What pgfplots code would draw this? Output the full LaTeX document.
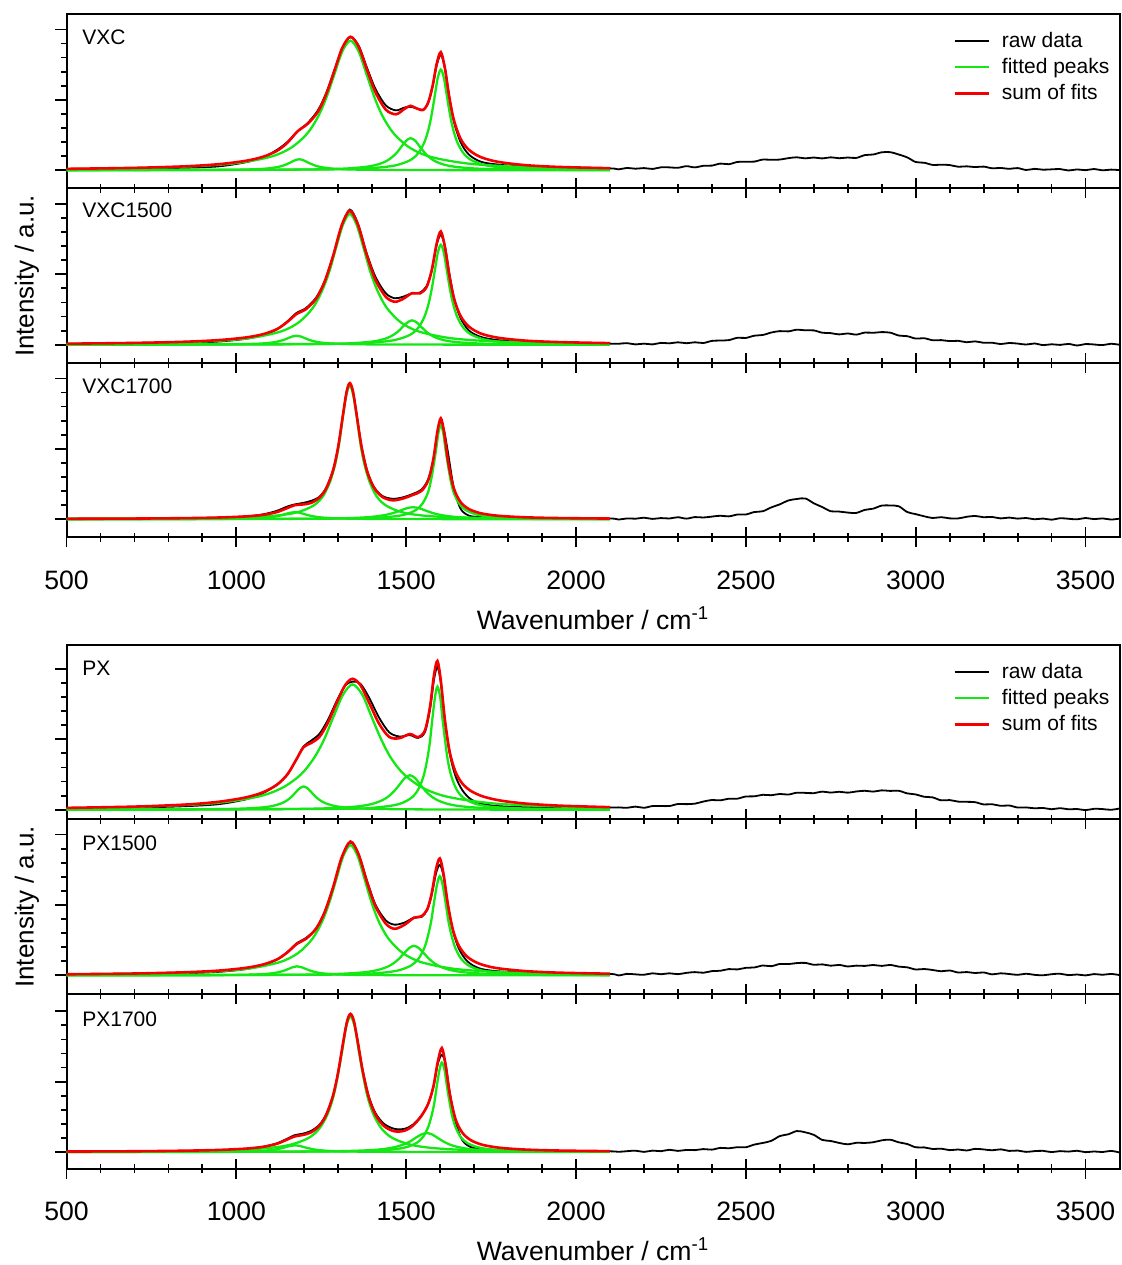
\documentclass[border=0pt]{standalone}
\usepackage{fontspec}
\setmainfont{Liberation Sans}
\usepackage{pgfplots}
\pgfplotsset{compat=1.18}
\definecolor{fitgreen}{RGB}{20,232,20}
\definecolor{fitred}{RGB}{245,0,0}
\pgfplotsset{
  panel/.style={
    scale only axis, width=526.5pt, height=87.25pt, anchor=south west,
    xmin=500, xmax=3600,
    xtick={500,1000,...,3500}, minor x tick num=4,
    ytick={0,1,2}, minor y tick num=4, yticklabels={},
    xtick pos=left, ytick pos=left,
    tick align=center, major tick length=10pt, minor tick length=4.6pt,
    every y tick/.append style={/pgfplots/tick align=outside,/pgfplots/major tick length=5.8pt,/pgfplots/minor tick length=2.5pt},
    tick style={black, line width=0.9pt},
    axis line style={line width=1pt},
    /pgf/number format/assume math mode=true,
    /pgf/number format/1000 sep={},
    ticklabel style={font=\fontsize{13.3}{15}\selectfont},
    xticklabel style={yshift=-8pt},
    xlabel style={font=\fontsize{13.3}{15}\selectfont, at={(axis description cs:0.5,0)}, anchor=center, yshift=-40.3pt},
    clip=true,
  },
  raw/.style={black, line width=0.9pt, smooth},
  peak/.style={fitgreen, line width=1.15pt, smooth},
  fit/.style={fitred, line width=1.3pt, smooth},
  keybox/.style={legend style={draw=none, fill=none, at={(axis description cs:0.836,0.945)}, anchor=north west,
    font=\fontsize{10.5}{12}\selectfont, row sep=0pt,
    /tikz/every odd column/.append style={column sep=4pt}}, legend cell align=left},
}
\newcommand{\plabel}[2]{\node[anchor=west, inner sep=0pt, font=\fontsize{10.5}{12}\selectfont] at (axis description cs:0.0147,#1) {#2};}
\begin{document}
\begin{tikzpicture}
\useasboundingbox (0,0) rectangle (560.5pt,632.5pt);

% ---------------- VXC ----------------
\begin{axis}[panel, keybox, at={(33.25pt,538.25pt)}, ymin=-0.26, ymax=2.219, xticklabels={}]
\addplot[raw] coordinates {(500,0.015)(700,0.025)(850,0.035)(950,0.055)(1030,0.115)(1080,0.185)(1120,0.29)(1150,0.40)(1180,0.55)(1210,0.67)(1240,0.85)(1265,1.10)(1290,1.44)(1312,1.74)(1336,1.89)(1360,1.77)(1385,1.45)(1410,1.15)(1440,0.92)(1470,0.85)(1495,0.89)(1513,0.90)(1530,0.88)(1550,0.86)(1565,0.96)(1578,1.19)(1590,1.49)(1602,1.64)(1614,1.45)(1626,1.07)(1640,0.70)(1660,0.40)(1685,0.22)(1720,0.12)(1770,0.08)(1850,0.05)(1950,0.04)(2100,0.026)
(2125,0.012)(2150,0.032)(2175,0.021)(2200,0.030)(2225,0.018)(2250,0.041)(2275,0.040)(2300,0.034)(2325,0.057)(2350,0.040)(2375,0.063)(2400,0.065)(2425,0.094)(2450,0.085)(2475,0.117)(2500,0.121)(2525,0.122)(2550,0.151)(2575,0.147)(2600,0.151)(2625,0.171)(2650,0.183)(2675,0.168)(2700,0.180)(2725,0.167)(2750,0.183)(2775,0.170)(2800,0.180)(2825,0.174)(2850,0.214)(2875,0.223)(2900,0.254)(2925,0.256)(2950,0.223)(2975,0.182)(3000,0.116)(3025,0.106)(3050,0.075)(3075,0.078)(3100,0.073)(3125,0.049)(3150,0.055)(3175,0.044)(3200,0.051)(3225,0.027)(3250,0.032)(3275,0.019)(3300,0.030)(3325,0.003)(3350,0.019)(3375,0.007)(3400,0.012)(3425,0.016)(3450,-0.004)(3475,0.011)(3500,0.000)(3525,0.017)(3550,-0.002)(3575,0.008)(3600,0.001)};
\addlegendentry{raw data}
\addplot[peak] coordinates {(500,0.017)(776,0.037)(976,0.087)(1096,0.184)(1160,0.315)(1208,0.517)(1240,0.754)(1264,1.017)(1288,1.353)(1312,1.688)(1336,1.84)(1360,1.688)(1384,1.353)(1408,1.017)(1432,0.754)(1464,0.517)(1512,0.315)(1576,0.184)(1696,0.087)(1896,0.037)(2100,0.020)};
\addlegendentry{fitted peaks}
\addplot[peak, forget plot] coordinates {(500,0.001)(1242,0.010)(1392,0.029)(1467,0.067)(1512,0.143)(1536,0.245)(1554,0.402)(1566,0.586)(1575,0.790)(1584,1.051)(1593,1.312)(1602,1.43)(1611,1.312)(1620,1.051)(1629,0.790)(1638,0.586)(1650,0.402)(1668,0.245)(1692,0.143)(1737,0.067)(1812,0.029)(1962,0.010)(2100,0.005)};
\addplot[peak, forget plot] coordinates {(500,0.001)(973,0.003)(1198,0.009)(1311,0.021)(1378,0.046)(1414,0.078)(1441,0.128)(1459,0.187)(1473,0.251)(1486,0.335)(1500,0.417)(1513,0.455)(1527,0.417)(1540,0.335)(1554,0.251)(1567,0.187)(1585,0.128)(1612,0.078)(1648,0.046)(1716,0.021)(1828,0.009)(2053,0.003)(2100,0.003)};
\addplot[peak, forget plot] coordinates {(500,0.001)(705,0.001)(905,0.003)(1005,0.007)(1065,0.016)(1097,0.027)(1121,0.044)(1137,0.064)(1149,0.086)(1161,0.114)(1173,0.142)(1185,0.155)(1197,0.142)(1209,0.114)(1221,0.086)(1233,0.064)(1249,0.044)(1273,0.027)(1305,0.016)(1365,0.007)(1465,0.003)(1665,0.001)(2100,0.000)};
\addplot[fit] coordinates {(500,0.019)(700,0.033)(850,0.055)(950,0.086)(1030,0.135)(1080,0.193)(1120,0.276)(1150,0.388)(1180,0.551)(1210,0.659)(1240,0.829)(1265,1.086)(1290,1.433)(1312,1.739)(1336,1.896)(1360,1.754)(1385,1.421)(1410,1.103)(1440,0.860)(1470,0.794)(1495,0.871)(1513,0.915)(1530,0.879)(1550,0.856)(1565,0.964)(1578,1.203)(1590,1.516)(1602,1.677)(1614,1.450)(1626,1.066)(1640,0.721)(1660,0.448)(1685,0.288)(1720,0.185)(1770,0.119)(1850,0.072)(1950,0.046)(2100,0.028)};
\addlegendentry{sum of fits}
\plabel{0.868}{VXC}
\end{axis}

% ---------------- VXC1500 ----------------
\begin{axis}[panel, at={(33.25pt,451pt)}, ymin=-0.26, ymax=2.219, xticklabels={}]
\addplot[raw] coordinates {(500,0.010)(700,0.018)(850,0.028)(950,0.045)(1030,0.085)(1080,0.14)(1120,0.22)(1150,0.33)(1177,0.45)(1205,0.52)(1235,0.67)(1260,0.90)(1285,1.26)(1310,1.68)(1334,1.92)(1358,1.72)(1383,1.31)(1410,0.96)(1440,0.73)(1466,0.66)(1490,0.68)(1517,0.73)(1540,0.74)(1560,0.83)(1575,1.05)(1590,1.42)(1602,1.56)(1614,1.40)(1628,0.99)(1642,0.64)(1660,0.38)(1685,0.20)(1720,0.11)(1770,0.065)(1850,0.035)(1950,0.025)(2100,0.015)
(2125,0.013)(2150,0.022)(2175,0.004)(2200,0.015)(2225,0.004)(2250,0.026)(2275,0.019)(2300,0.034)(2325,0.021)(2350,0.034)(2375,0.024)(2400,0.054)(2425,0.059)(2450,0.065)(2475,0.098)(2500,0.096)(2525,0.128)(2550,0.138)(2575,0.173)(2600,0.193)(2625,0.189)(2650,0.213)(2675,0.204)(2700,0.203)(2725,0.170)(2750,0.164)(2775,0.146)(2800,0.160)(2825,0.143)(2850,0.172)(2875,0.169)(2900,0.179)(2925,0.171)(2950,0.130)(2975,0.121)(3000,0.087)(3025,0.092)(3050,0.063)(3075,0.065)(3100,0.051)(3125,0.055)(3150,0.035)(3175,0.047)(3200,0.027)(3225,0.028)(3250,0.009)(3275,0.024)(3300,0.016)(3325,0.002)(3350,0.017)(3375,-0.006)(3400,0.006)(3425,-0.003)(3450,0.011)(3475,-0.011)(3500,0.009)(3525,0.003)(3550,-0.006)(3575,0.013)(3600,-0.001)};
\addplot[peak] coordinates {(500,0.012)(858,0.037)(1028,0.087)(1130,0.186)(1184,0.318)(1225,0.522)(1252,0.761)(1273,1.027)(1293,1.366)(1314,1.705)(1334,1.858)(1354,1.705)(1375,1.366)(1395,1.027)(1416,0.761)(1443,0.522)(1484,0.318)(1538,0.186)(1640,0.087)(1810,0.037)(2100,0.015)};
\addplot[peak] coordinates {(500,0.001)(1242,0.010)(1392,0.028)(1467,0.067)(1512,0.142)(1536,0.243)(1554,0.399)(1566,0.582)(1575,0.785)(1584,1.044)(1593,1.303)(1602,1.42)(1611,1.303)(1620,1.044)(1629,0.785)(1638,0.582)(1650,0.399)(1668,0.243)(1692,0.142)(1737,0.067)(1812,0.028)(1962,0.010)(2100,0.005)};
\addplot[peak] coordinates {(500,0.001)(977,0.002)(1202,0.007)(1315,0.016)(1382,0.035)(1418,0.059)(1445,0.097)(1463,0.142)(1477,0.191)(1490,0.254)(1504,0.317)(1517,0.346)(1531,0.317)(1544,0.254)(1558,0.191)(1571,0.142)(1589,0.097)(1616,0.059)(1652,0.035)(1720,0.016)(1832,0.007)(2057,0.002)(2100,0.002)};
\addplot[peak] coordinates {(500,0.000)(697,0.001)(897,0.003)(997,0.006)(1057,0.013)(1089,0.022)(1113,0.036)(1129,0.053)(1141,0.071)(1153,0.094)(1165,0.117)(1177,0.128)(1189,0.117)(1201,0.094)(1213,0.071)(1225,0.053)(1241,0.036)(1265,0.022)(1297,0.013)(1357,0.006)(1457,0.003)(1657,0.001)(2100,0.000)};
\addplot[fit] coordinates {(500,0.014)(700,0.025)(850,0.042)(950,0.066)(1030,0.104)(1080,0.151)(1120,0.222)(1150,0.323)(1177,0.435)(1205,0.505)(1235,0.655)(1260,0.896)(1285,1.264)(1310,1.693)(1334,1.903)(1358,1.705)(1383,1.289)(1410,0.916)(1440,0.680)(1466,0.610)(1490,0.648)(1517,0.731)(1540,0.728)(1560,0.817)(1575,1.053)(1590,1.443)(1602,1.609)(1614,1.389)(1628,0.955)(1642,0.638)(1660,0.409)(1685,0.255)(1720,0.158)(1770,0.099)(1850,0.058)(1950,0.037)(2100,0.022)};
\plabel{0.877}{VXC1500}
\end{axis}

% ---------------- VXC1700 ----------------
\begin{axis}[panel, at={(33.25pt,363.75pt)}, ymin=-0.26, ymax=2.219,
  xlabel={Wavenumber / cm\textsuperscript{-1}}]
\addplot[raw] coordinates {(500,0.01)(700,0.01)(850,0.015)(950,0.02)(1030,0.04)(1080,0.07)(1120,0.12)(1150,0.18)(1172,0.21)(1195,0.23)(1220,0.26)(1245,0.32)(1265,0.45)(1285,0.70)(1300,1.03)(1315,1.51)(1325,1.81)(1334,1.92)(1343,1.82)(1353,1.52)(1368,1.05)(1385,0.69)(1405,0.46)(1430,0.33)(1460,0.29)(1490,0.31)(1520,0.36)(1545,0.42)(1565,0.57)(1580,0.85)(1592,1.22)(1602,1.38)(1612,1.25)(1624,0.92)(1640,0.45)(1660,0.15)(1685,0.05)(1720,0.03)(1770,0.02)(1850,0.015)(1950,0.01)(2100,0.01)
(2125,-0.005)(2150,0.011)(2175,0.007)(2200,0.021)(2225,0.004)(2250,0.016)(2275,0.010)(2300,0.028)(2325,0.008)(2350,0.030)(2375,0.024)(2400,0.037)(2425,0.049)(2450,0.040)(2475,0.066)(2500,0.067)(2525,0.102)(2550,0.113)(2575,0.168)(2600,0.211)(2625,0.266)(2650,0.287)(2675,0.295)(2700,0.226)(2725,0.172)(2750,0.113)(2775,0.108)(2800,0.094)(2825,0.089)(2850,0.132)(2875,0.150)(2900,0.193)(2925,0.195)(2950,0.184)(2975,0.102)(3000,0.072)(3025,0.041)(3050,0.017)(3075,0.029)(3100,0.012)(3125,0.011)(3150,0.034)(3175,0.046)(3200,0.028)(3225,0.032)(3250,0.011)(3275,0.023)(3300,0.008)(3325,0.017)(3350,-0.001)(3375,0.009)(3400,-0.007)(3425,0.014)(3450,0.006)(3475,-0.002)(3500,0.017)(3525,0.001)(3550,0.011)(3575,-0.005)(3600,0.008)};
\addplot[peak] coordinates {(500,0.004)(902,0.013)(1082,0.038)(1172,0.089)(1226,0.19)(1255,0.325)(1276,0.534)(1291,0.779)(1302,1.050)(1312,1.397)(1323,1.743)(1334,1.90)(1345,1.743)(1356,1.397)(1366,1.050)(1377,0.779)(1392,0.534)(1413,0.325)(1442,0.19)(1496,0.089)(1586,0.038)(1766,0.013)(2100,0.004)};
\addplot[peak] coordinates {(500,0.001)(1314,0.009)(1434,0.027)(1494,0.063)(1530,0.134)(1549,0.229)(1564,0.376)(1573,0.549)(1580,0.740)(1588,0.985)(1595,1.229)(1602,1.34)(1609,1.229)(1616,0.985)(1624,0.740)(1631,0.549)(1640,0.376)(1655,0.229)(1674,0.134)(1710,0.063)(1770,0.027)(1890,0.009)(2100,0.003)};
\addplot[peak] coordinates {(500,0.001)(800,0.001)(1100,0.003)(1250,0.008)(1340,0.017)(1388,0.029)(1424,0.048)(1448,0.070)(1466,0.094)(1484,0.125)(1502,0.156)(1520,0.17)(1538,0.156)(1556,0.125)(1574,0.094)(1592,0.070)(1616,0.048)(1652,0.029)(1700,0.017)(1790,0.008)(1940,0.003)(2100,0.002)};
\addplot[peak] coordinates {(500,0.000)(632,0.001)(857,0.002)(970,0.005)(1037,0.010)(1073,0.017)(1100,0.028)(1118,0.041)(1132,0.055)(1145,0.074)(1159,0.092)(1172,0.10)(1186,0.092)(1199,0.074)(1213,0.055)(1226,0.041)(1244,0.028)(1271,0.017)(1307,0.010)(1375,0.005)(1487,0.002)(1712,0.001)(2100,0.000)};
\addplot[fit] coordinates {(500,0.005)(700,0.009)(850,0.015)(950,0.024)(1030,0.040)(1080,0.062)(1120,0.102)(1150,0.158)(1172,0.199)(1195,0.209)(1220,0.231)(1245,0.308)(1265,0.441)(1285,0.698)(1300,1.035)(1315,1.518)(1325,1.820)(1334,1.934)(1343,1.824)(1353,1.524)(1368,1.046)(1385,0.681)(1405,0.448)(1430,0.315)(1460,0.268)(1490,0.293)(1520,0.346)(1545,0.402)(1565,0.552)(1580,0.854)(1592,1.249)(1602,1.433)(1612,1.224)(1624,0.800)(1640,0.442)(1660,0.245)(1685,0.143)(1720,0.084)(1770,0.049)(1850,0.027)(1950,0.016)(2100,0.009)};
\plabel{0.868}{VXC1700}
\end{axis}

% ---------------- PX ----------------
\begin{axis}[panel, keybox, at={(33.25pt,222.75pt)}, ymin=-0.139, ymax=2.34, xticklabels={}]
\addplot[raw] coordinates {(500,0.02)(700,0.03)(850,0.05)(950,0.08)(1030,0.15)(1080,0.24)(1120,0.36)(1150,0.50)(1175,0.70)(1198,0.90)(1220,0.98)(1245,1.08)(1270,1.28)(1295,1.54)(1320,1.76)(1342,1.82)(1365,1.79)(1390,1.60)(1420,1.31)(1450,1.10)(1480,1.04)(1511,1.06)(1535,1.02)(1555,1.10)(1570,1.42)(1582,1.85)(1592,2.03)(1602,1.80)(1614,1.27)(1628,0.80)(1645,0.48)(1665,0.28)(1690,0.15)(1725,0.08)(1775,0.05)(1850,0.035)(1950,0.03)(2100,0.03)
(2125,0.033)(2150,0.027)(2175,0.044)(2200,0.027)(2225,0.052)(2250,0.053)(2275,0.052)(2300,0.081)(2325,0.079)(2350,0.086)(2375,0.116)(2400,0.138)(2425,0.133)(2450,0.157)(2475,0.157)(2500,0.188)(2525,0.190)(2550,0.212)(2575,0.206)(2600,0.224)(2625,0.215)(2650,0.242)(2675,0.239)(2700,0.235)(2725,0.257)(2750,0.243)(2775,0.255)(2800,0.242)(2825,0.259)(2850,0.269)(2875,0.257)(2900,0.275)(2925,0.267)(2950,0.269)(2975,0.232)(3000,0.217)(3025,0.184)(3050,0.175)(3075,0.133)(3100,0.137)(3125,0.115)(3150,0.112)(3175,0.107)(3200,0.075)(3225,0.078)(3250,0.055)(3275,0.060)(3300,0.031)(3325,0.033)(3350,0.020)(3375,0.025)(3400,0.007)(3425,0.022)(3450,0.006)(3475,0.010)(3500,-0.006)(3525,0.013)(3550,0.009)(3575,-0.001)(3600,0.017)};
\addlegendentry{raw data}
\addplot[peak] coordinates {(500,0.022)(677,0.036)(915,0.084)(1057,0.178)(1133,0.305)(1190,0.50)(1228,0.729)(1257,0.983)(1285,1.309)(1314,1.633)(1342,1.78)(1371,1.633)(1399,1.309)(1428,0.983)(1456,0.729)(1494,0.50)(1551,0.305)(1627,0.178)(1770,0.084)(2007,0.036)(2100,0.028)};
\addlegendentry{fitted peaks}
\addplot[peak, forget plot] coordinates {(500,0.001)(1292,0.012)(1417,0.035)(1480,0.082)(1517,0.175)(1537,0.300)(1552,0.492)(1562,0.717)(1570,0.967)(1577,1.287)(1585,1.605)(1592,1.75)(1600,1.605)(1607,1.287)(1615,0.967)(1622,0.717)(1632,0.492)(1647,0.300)(1667,0.175)(1705,0.082)(1767,0.035)(1892,0.012)(2100,0.004)};
\addplot[peak, forget plot] coordinates {(500,0.001)(911,0.003)(1161,0.010)(1286,0.023)(1361,0.049)(1401,0.084)(1431,0.138)(1451,0.201)(1466,0.271)(1481,0.360)(1496,0.450)(1511,0.49)(1526,0.450)(1541,0.360)(1556,0.271)(1571,0.201)(1591,0.138)(1621,0.084)(1661,0.049)(1736,0.023)(1861,0.010)(2100,0.004)};
\addplot[peak, forget plot] coordinates {(500,0.001)(718,0.002)(918,0.007)(1018,0.016)(1078,0.033)(1110,0.057)(1134,0.093)(1150,0.135)(1162,0.182)(1174,0.243)(1186,0.303)(1198,0.33)(1210,0.303)(1222,0.243)(1234,0.182)(1246,0.135)(1262,0.093)(1286,0.057)(1318,0.033)(1378,0.016)(1478,0.007)(1678,0.002)(2100,0.001)};
\addplot[fit] coordinates {(500,0.026)(700,0.044)(850,0.073)(950,0.114)(1030,0.177)(1080,0.251)(1120,0.356)(1150,0.499)(1175,0.699)(1198,0.889)(1220,0.947)(1245,1.036)(1270,1.239)(1295,1.515)(1320,1.767)(1342,1.860)(1365,1.772)(1390,1.530)(1420,1.224)(1450,1.034)(1480,1.016)(1511,1.075)(1535,1.032)(1555,1.124)(1570,1.458)(1582,1.916)(1592,2.113)(1602,1.835)(1614,1.276)(1628,0.825)(1645,0.540)(1665,0.374)(1690,0.268)(1725,0.190)(1775,0.132)(1850,0.088)(1950,0.058)(2100,0.036)};
\addlegendentry{sum of fits}
\plabel{0.868}{PX}
\end{axis}

% ---------------- PX1500 ----------------
\begin{axis}[panel, at={(33.25pt,135.5pt)}, ymin=-0.265, ymax=2.214, xticklabels={}]
\addplot[raw] coordinates {(500,0.01)(700,0.015)(850,0.03)(950,0.05)(1030,0.09)(1080,0.145)(1120,0.225)(1150,0.33)(1179,0.46)(1205,0.53)(1235,0.67)(1260,0.90)(1285,1.25)(1310,1.66)(1336,1.89)(1360,1.72)(1385,1.34)(1410,1.00)(1440,0.78)(1466,0.72)(1495,0.75)(1523,0.82)(1545,0.83)(1562,0.93)(1575,1.14)(1588,1.45)(1599,1.57)(1610,1.41)(1623,1.00)(1638,0.63)(1655,0.38)(1680,0.20)(1715,0.10)(1765,0.06)(1850,0.04)(1950,0.03)(2100,0.02)
(2125,-0.001)(2150,0.021)(2175,0.014)(2200,0.008)(2225,0.029)(2250,0.016)(2275,0.029)(2300,0.017)(2325,0.035)(2350,0.046)(2375,0.037)(2400,0.060)(2425,0.065)(2450,0.089)(2475,0.084)(2500,0.107)(2525,0.112)(2550,0.140)(2575,0.130)(2600,0.162)(2625,0.160)(2650,0.174)(2675,0.177)(2700,0.150)(2725,0.156)(2750,0.137)(2775,0.148)(2800,0.126)(2825,0.138)(2850,0.134)(2875,0.147)(2900,0.134)(2925,0.148)(2950,0.124)(2975,0.114)(3000,0.083)(3025,0.090)(3050,0.076)(3075,0.058)(3100,0.069)(3125,0.040)(3150,0.047)(3175,0.033)(3200,0.041)(3225,0.014)(3250,0.029)(3275,0.019)(3300,0.007)(3325,0.023)(3350,0.007)(3375,0.001)(3400,0.016)(3425,0.023)(3450,0.003)(3475,0.012)(3500,-0.001)(3525,0.018)(3550,0.008)(3575,0.020)(3600,0.004)};
\addplot[peak] coordinates {(500,0.013)(846,0.037)(1021,0.087)(1126,0.185)(1182,0.317)(1224,0.520)(1252,0.758)(1273,1.022)(1294,1.360)(1315,1.697)(1336,1.85)(1357,1.697)(1378,1.360)(1399,1.022)(1420,0.758)(1448,0.520)(1490,0.317)(1546,0.185)(1651,0.087)(1826,0.037)(2100,0.015)};
\addplot[peak] coordinates {(500,0.001)(1263,0.010)(1403,0.028)(1473,0.066)(1515,0.141)(1537,0.241)(1554,0.396)(1565,0.578)(1574,0.779)(1582,1.037)(1591,1.294)(1599,1.41)(1607,1.294)(1616,1.037)(1624,0.779)(1633,0.578)(1644,0.396)(1661,0.241)(1683,0.141)(1725,0.066)(1795,0.028)(1935,0.010)(2100,0.004)};
\addplot[peak] coordinates {(500,0.001)(923,0.003)(1173,0.008)(1298,0.020)(1373,0.042)(1413,0.072)(1443,0.118)(1463,0.172)(1478,0.232)(1493,0.309)(1508,0.385)(1523,0.42)(1538,0.385)(1553,0.309)(1568,0.232)(1583,0.172)(1603,0.118)(1633,0.072)(1673,0.042)(1748,0.020)(1873,0.008)(2100,0.003)};
\addplot[peak] coordinates {(500,0.000)(699,0.001)(899,0.003)(999,0.006)(1059,0.013)(1091,0.022)(1115,0.036)(1131,0.053)(1143,0.071)(1155,0.094)(1167,0.117)(1179,0.128)(1191,0.117)(1203,0.094)(1215,0.071)(1227,0.053)(1243,0.036)(1267,0.022)(1299,0.013)(1359,0.006)(1459,0.003)(1659,0.001)(2100,0.000)};
\addplot[fit] coordinates {(500,0.015)(700,0.026)(850,0.044)(950,0.068)(1030,0.108)(1080,0.156)(1120,0.227)(1150,0.325)(1179,0.450)(1205,0.518)(1235,0.664)(1260,0.898)(1285,1.253)(1310,1.672)(1336,1.901)(1360,1.717)(1385,1.319)(1410,0.977)(1440,0.734)(1466,0.661)(1495,0.718)(1523,0.818)(1545,0.839)(1562,0.938)(1575,1.162)(1588,1.512)(1599,1.661)(1610,1.440)(1623,1.001)(1638,0.641)(1655,0.420)(1680,0.263)(1715,0.166)(1765,0.104)(1850,0.061)(1950,0.038)(2100,0.023)};
\plabel{0.865}{PX1500}
\end{axis}

% ---------------- PX1700 ----------------
\begin{axis}[panel, at={(33.25pt,48.25pt)}, ymin=-0.234, ymax=2.245,
  xlabel={Wavenumber / cm\textsuperscript{-1}}]
\addplot[raw] coordinates {(500,0.005)(700,0.008)(850,0.015)(950,0.025)(1030,0.045)(1080,0.075)(1120,0.125)(1150,0.19)(1172,0.24)(1195,0.26)(1220,0.30)(1245,0.39)(1265,0.54)(1285,0.81)(1300,1.14)(1315,1.57)(1326,1.86)(1336,1.96)(1346,1.86)(1358,1.55)(1372,1.16)(1390,0.79)(1410,0.55)(1435,0.40)(1465,0.33)(1495,0.33)(1520,0.39)(1545,0.52)(1565,0.69)(1580,0.92)(1593,1.25)(1605,1.38)(1616,1.25)(1628,0.86)(1645,0.43)(1665,0.17)(1690,0.07)(1725,0.04)(1775,0.03)(1850,0.02)(1950,0.015)(2100,0.01)
(2125,0.003)(2150,0.012)(2175,0.019)(2200,0.002)(2225,0.020)(2250,0.012)(2275,0.032)(2300,0.016)(2325,0.030)(2350,0.027)(2375,0.042)(2400,0.034)(2425,0.059)(2450,0.053)(2475,0.069)(2500,0.068)(2525,0.106)(2550,0.129)(2575,0.159)(2600,0.227)(2625,0.252)(2650,0.298)(2675,0.280)(2700,0.244)(2725,0.172)(2750,0.157)(2775,0.129)(2800,0.110)(2825,0.131)(2850,0.129)(2875,0.139)(2900,0.166)(2925,0.175)(2950,0.138)(2975,0.114)(3000,0.067)(3025,0.066)(3050,0.043)(3075,0.048)(3100,0.027)(3125,0.036)(3150,0.022)(3175,0.045)(3200,0.037)(3225,0.025)(3250,0.038)(3275,0.016)(3300,0.021)(3325,0.002)(3350,0.013)(3375,0.017)(3400,-0.001)(3425,0.013)(3450,0.006)(3475,0.018)(3500,-0.002)(3525,0.008)(3550,0.000)(3575,0.016)(3600,-0.006)};
\addplot[peak] coordinates {(500,0.005)(832,0.013)(1042,0.039)(1147,0.091)(1210,0.193)(1244,0.330)(1269,0.542)(1286,0.791)(1298,1.066)(1311,1.419)(1323,1.771)(1336,1.93)(1349,1.771)(1361,1.419)(1374,1.066)(1386,0.791)(1403,0.542)(1428,0.330)(1462,0.193)(1525,0.091)(1630,0.039)(1840,0.013)(2100,0.006)};
\addplot[peak] coordinates {(500,0.001)(1305,0.009)(1430,0.025)(1493,0.060)(1530,0.127)(1550,0.217)(1565,0.357)(1575,0.520)(1583,0.702)(1590,0.934)(1598,1.165)(1605,1.27)(1613,1.165)(1620,0.934)(1628,0.702)(1635,0.520)(1645,0.357)(1660,0.217)(1680,0.127)(1718,0.060)(1780,0.025)(1905,0.009)(2100,0.003)};
\addplot[peak] coordinates {(500,0.001)(900,0.002)(1175,0.005)(1313,0.013)(1395,0.027)(1439,0.046)(1472,0.076)(1494,0.111)(1511,0.149)(1527,0.199)(1544,0.248)(1560,0.27)(1577,0.248)(1593,0.199)(1610,0.149)(1626,0.111)(1648,0.076)(1681,0.046)(1725,0.027)(1808,0.013)(1945,0.005)(2100,0.003)};
\addplot[peak] coordinates {(500,0.000)(632,0.001)(857,0.002)(970,0.005)(1037,0.010)(1073,0.016)(1100,0.027)(1118,0.039)(1132,0.053)(1145,0.070)(1159,0.087)(1172,0.095)(1186,0.087)(1199,0.070)(1213,0.053)(1226,0.039)(1244,0.027)(1271,0.016)(1307,0.010)(1375,0.005)(1487,0.002)(1712,0.001)(2100,0.000)};
\addplot[fit] coordinates {(500,0.007)(700,0.011)(850,0.019)(950,0.030)(1030,0.049)(1080,0.075)(1120,0.118)(1150,0.178)(1172,0.222)(1195,0.242)(1220,0.279)(1245,0.377)(1265,0.532)(1285,0.808)(1300,1.140)(1315,1.572)(1326,1.855)(1336,1.963)(1346,1.861)(1358,1.551)(1372,1.153)(1390,0.774)(1410,0.527)(1435,0.368)(1465,0.295)(1495,0.303)(1520,0.375)(1545,0.514)(1565,0.687)(1580,0.929)(1593,1.281)(1605,1.478)(1616,1.239)(1628,0.834)(1645,0.472)(1665,0.277)(1690,0.169)(1725,0.102)(1775,0.061)(1850,0.035)(1950,0.021)(2100,0.012)};
\plabel{0.857}{PX1700}
\end{axis}

% shared axis titles
\node[rotate=90, font=\fontsize{13}{15}\selectfont] at (13.5pt,494.5pt) {Intensity / a.u.};
\node[rotate=90, font=\fontsize{13}{15}\selectfont] at (13.5pt,179.1pt) {Intensity / a.u.};
\end{tikzpicture}
\end{document}
